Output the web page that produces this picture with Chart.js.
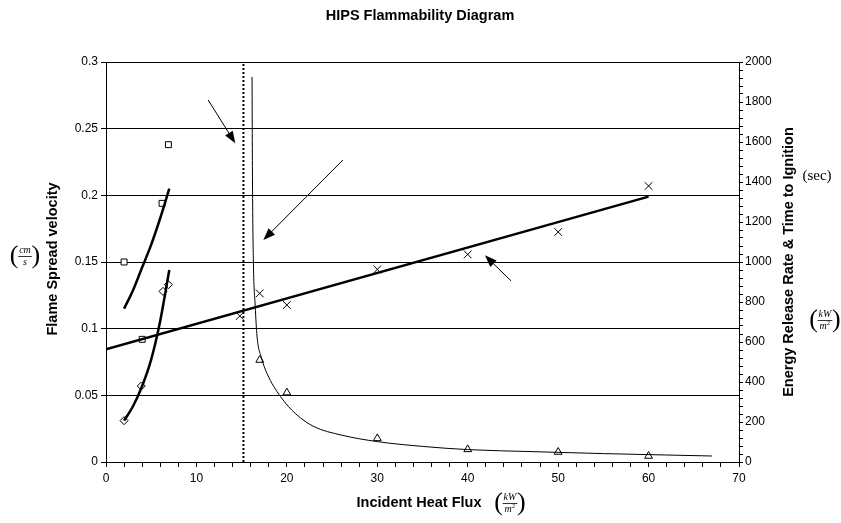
<!DOCTYPE html>
<html>
<head>
<meta charset="utf-8">
<script src="https://cdn.jsdelivr.net/npm/chart.js@4.4.0/dist/chart.umd.min.js"></script>
<style>
  html, body { margin: 0; padding: 0; background: #fff; }
  #wrap { width: 841px; height: 523px; }
</style>
</head>
<body>
<div id="wrap"><canvas id="c"></canvas></div>
<script>
// flame spread velocity (left axis)
const squareX = [2, 4, 6.2, 6.9];
const squareY = [0.15, 0.092, 0.194, 0.238];
const diamondX = [2, 3.9, 6.3, 6.9];
const diamondY = [0.031, 0.057, 0.128, 0.133];
const squareFitX = [2, 3, 4, 5, 6, 7];
const squareFitY = [0.115, 0.129, 0.146, 0.163, 0.183, 0.205];
const diamondFitX = [2, 3, 4, 5, 6, 7];
const diamondFitY = [0.031, 0.042, 0.057, 0.077, 0.106, 0.144];

// energy release rate & time to ignition (right axis)
const energyX = [14.8, 17, 20, 30, 40, 50, 60];
const energyY = [730, 843, 785, 963, 1038, 1150, 1380];
const energyFitX = [0, 60];
const energyFitY = [563, 1327];
const ignitionX = [17, 20, 30, 40, 50, 60];
const ignitionY = [510, 347, 118, 63, 50, 30];
const ignitionFitX = [16.15, 16.2, 16.3, 16.5, 16.7, 17.2, 17.8, 19.3, 21, 23, 26, 30, 35, 40, 47, 55, 62, 67];
const ignitionFitY = [1925, 1400, 1000, 780, 630, 520, 443, 327, 240, 177, 135, 102, 78, 62, 52, 42, 35, 30];

// critical heat flux marker
const criticalFlux = 15.2;

// arrows (data coords, left axis)
const arrowFromX = [11.3, 26.2, 44.8];
const arrowFromY = [0.2715, 0.2265, 0.1358];
const arrowToX = [14.3, 17.4, 41.9];
const arrowToY = [0.239, 0.1665, 0.155];

const pts = (xs, ys) => xs.map((x, i) => ({ x: x, y: ys[i] }));

function drawUnit(ctx, cx, cy, num, den, sup) {
  ctx.save();
  ctx.fillStyle = '#000';
  ctx.strokeStyle = '#000';
  ctx.textAlign = 'center';
  ctx.textBaseline = 'middle';
  ctx.font = 'italic 10px "Liberation Serif"';
  const w = Math.max(ctx.measureText(num).width, ctx.measureText(den).width + (sup ? 4 : 0)) + 2;
  ctx.font = '26px "Liberation Serif"';
  ctx.fillText('(', cx - w / 2 - 4, cy);
  ctx.fillText(')', cx + w / 2 + 4, cy);
  ctx.font = 'italic 10px "Liberation Serif"';
  ctx.fillText(num, cx, cy - 5.5);
  ctx.fillText(den, cx - (sup ? 2 : 0), cy + 6.5);
  if (sup) {
    const dw = ctx.measureText(den).width;
    ctx.font = '6px "Liberation Serif"';
    ctx.fillText(sup, cx - 2 + dw / 2 + 2, cy + 3.5);
  }
  ctx.lineWidth = 0.8;
  ctx.beginPath();
  ctx.moveTo(cx - w / 2, cy + 0.5);
  ctx.lineTo(cx + w / 2, cy + 0.5);
  ctx.stroke();
  ctx.restore();
}

const decorations = {
  id: 'decorations',
  afterDatasetsDraw(chart) {
    const ctx = chart.ctx;
    const xs = chart.scales.x, ys = chart.scales.y;
    ctx.save();
    ctx.strokeStyle = '#000';
    ctx.fillStyle = '#000';
    ctx.lineWidth = 1;
    for (let i = 0; i < arrowFromX.length; i++) {
      const x1 = xs.getPixelForValue(arrowFromX[i]), y1 = ys.getPixelForValue(arrowFromY[i]);
      const x2 = xs.getPixelForValue(arrowToX[i]), y2 = ys.getPixelForValue(arrowToY[i]);
      const a = Math.atan2(y2 - y1, x2 - x1);
      const len = 12, half = 4.5;
      ctx.beginPath();
      ctx.moveTo(x1, y1);
      ctx.lineTo(x2 - Math.cos(a) * len * 0.8, y2 - Math.sin(a) * len * 0.8);
      ctx.stroke();
      ctx.beginPath();
      ctx.moveTo(x2, y2);
      ctx.lineTo(x2 - Math.cos(a) * len - Math.sin(a) * half, y2 - Math.sin(a) * len + Math.cos(a) * half);
      ctx.lineTo(x2 - Math.cos(a) * len + Math.sin(a) * half, y2 - Math.sin(a) * len - Math.cos(a) * half);
      ctx.closePath();
      ctx.fill();
    }
    ctx.restore();
  },
  afterDraw(chart) {
    const ctx = chart.ctx;
    const area = chart.chartArea;
    const midY = (area.top + area.bottom) / 2;
    ctx.save();
    ctx.fillStyle = '#000';
    ctx.textAlign = 'center';
    ctx.textBaseline = 'middle';
    ctx.font = 'bold 14.5px "Liberation Sans"';
    ctx.fillText('HIPS Flammability Diagram', 420, 16);
    ctx.fillText('Incident Heat Flux', 419, 503);
    ctx.save();
    ctx.translate(53, midY - 3);
    ctx.rotate(-Math.PI / 2);
    ctx.fillText('Flame Spread velocity', 0, 0);
    ctx.restore();
    ctx.save();
    ctx.translate(789, midY);
    ctx.rotate(-Math.PI / 2);
    ctx.fillText('Energy Release Rate & Time to Ignition', 0, 0);
    ctx.restore();
    ctx.font = '15px "Liberation Serif"';
    ctx.fillText('(sec)', 817, 176);
    ctx.restore();
    drawUnit(ctx, 25, 256, 'cm', 's', '');
    drawUnit(ctx, 825, 320, 'kW', 'm', '2');
    drawUnit(ctx, 510, 503, 'kW', 'm', '2');
  }
};

const tickFont = { family: 'Liberation Sans', size: 12 };

new Chart(document.getElementById('c'), {
  type: 'scatter',
  data: {
    datasets: [
      { data: pts(squareFitX, squareFitY), showLine: true, borderColor: '#000', borderWidth: 2.5,
        pointRadius: 0, cubicInterpolationMode: 'monotone', yAxisID: 'y' },
      { data: pts(diamondFitX, diamondFitY), showLine: true, borderColor: '#000', borderWidth: 2.5,
        pointRadius: 0, cubicInterpolationMode: 'monotone', yAxisID: 'y' },
      { data: pts(energyFitX, energyFitY), showLine: true, borderColor: '#000', borderWidth: 2.5,
        pointRadius: 0, yAxisID: 'y2' },
      { data: pts(ignitionFitX, ignitionFitY), showLine: true, borderColor: '#000', borderWidth: 1,
        pointRadius: 0, cubicInterpolationMode: 'monotone', yAxisID: 'y2' },
      { data: [{ x: criticalFlux, y: 0 }, { x: criticalFlux, y: 0.3 }], showLine: true, borderColor: '#000',
        borderWidth: 2, borderDash: [2, 2], pointRadius: 0, yAxisID: 'y' },
      { data: pts(squareX, squareY), pointStyle: 'rect', pointRadius: 4.2, backgroundColor: '#fff',
        borderColor: '#000', borderWidth: 1, yAxisID: 'y' },
      { data: pts(diamondX, diamondY), pointStyle: 'rectRot', pointRadius: 4, backgroundColor: '#fff',
        borderColor: '#000', borderWidth: 1, yAxisID: 'y' },
      { data: pts(energyX, energyY), pointStyle: 'crossRot', pointRadius: 5.5, backgroundColor: '#fff',
        borderColor: '#000', borderWidth: 1, yAxisID: 'y2' },
      { data: pts(ignitionX, ignitionY), pointStyle: 'triangle', pointRadius: 4.5, backgroundColor: '#fff',
        borderColor: '#000', borderWidth: 1, yAxisID: 'y2' }
    ]
  },
  options: {
    responsive: true,
    maintainAspectRatio: false,
    animation: false,
    layout: { padding: { top: 62, left: 0, right: 0, bottom: 0 } },
    plugins: { legend: { display: false }, tooltip: { enabled: false } },
    scales: {
      x: {
        type: 'linear',
        position: 'bottom',
        min: 0,
        max: 70,
        afterFit: s => { s.height = 61; },
        border: { color: '#000', width: 1 },
        grid: { drawOnChartArea: false, tickLength: 5, tickColor: '#000' },
        ticks: {
          stepSize: 2, autoSkip: false, maxRotation: 0, maxTicksLimit: 100, padding: 4,
          color: '#000', font: tickFont,
          callback: v => (v % 10 === 0 ? v : '')
        }
      },
      y: {
        position: 'left',
        min: 0,
        max: 0.3,
        afterFit: s => { s.width = 106; },
        border: { color: '#000', width: 1 },
        grid: { color: '#000', lineWidth: 1, tickLength: 5, tickColor: '#000' },
        ticks: {
          stepSize: 0.05, padding: 3, color: '#000', font: tickFont,
          callback: v => String(Number(v.toFixed(2)))
        }
      },
      y2: {
        position: 'right',
        min: 0,
        max: 2000,
        afterFit: s => { s.width = 102; },
        border: { color: '#000', width: 1 },
        grid: { drawOnChartArea: false, tickLength: 4, tickColor: '#000' },
        ticks: {
          stepSize: 40, autoSkip: false, maxTicksLimit: 100, padding: 2, color: '#000', font: tickFont,
          callback: v => (v % 200 === 0 ? v : '')
        }
      }
    }
  },
  plugins: [decorations]
});
</script>
</body>
</html>
